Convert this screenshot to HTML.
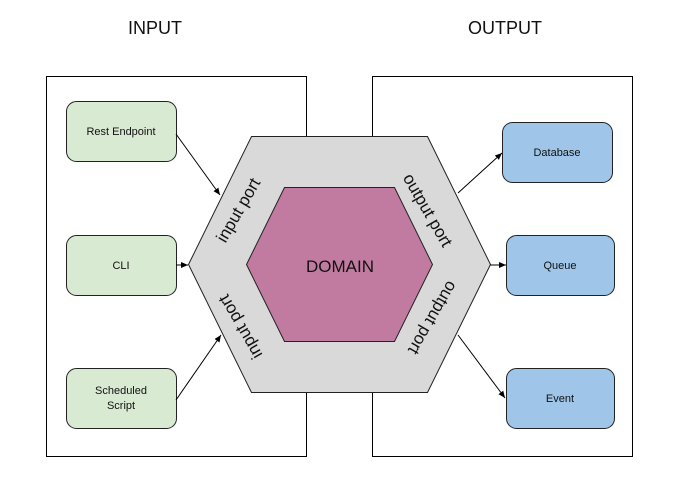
<!DOCTYPE html>
<html><head><meta charset="utf-8"><style>
html,body{margin:0;padding:0;background:#fff;}
svg{display:block;}
text{font-family:"Liberation Sans",Arial,sans-serif;fill:#111;}
</style></head><body>
<svg width="682" height="487" viewBox="0 0 682 487" xmlns="http://www.w3.org/2000/svg">
<defs>
<marker id="a" markerWidth="8" markerHeight="8" refX="7" refY="4" orient="auto" markerUnits="userSpaceOnUse">
<path d="M0,1 L7,4 L0,7 Z" fill="#000"/></marker>
</defs>
<text x="155" y="34" font-size="18" text-anchor="middle">INPUT</text>
<text x="505" y="34" font-size="18" text-anchor="middle">OUTPUT</text>
<rect x="46.5" y="76.5" width="260" height="380" fill="#fff" stroke="#000" stroke-width="1"/>
<rect x="372.5" y="76.5" width="260" height="380" fill="#fff" stroke="#000" stroke-width="1"/>
<g stroke="#222" stroke-width="1">
<rect x="66.5" y="101.5" width="110" height="60" rx="10" fill="#d9ead3"/>
<rect x="66.5" y="235.5" width="110" height="60" rx="10" fill="#d9ead3"/>
<rect x="66.5" y="368.5" width="110" height="60" rx="10" fill="#d9ead3"/>
<rect x="502.5" y="122.5" width="110" height="60" rx="10" fill="#9fc5e8"/>
<rect x="506.5" y="235.5" width="108" height="60" rx="10" fill="#9fc5e8"/>
<rect x="506.5" y="368.5" width="108" height="60" rx="10" fill="#9fc5e8"/>
</g>
<g font-size="11" text-anchor="middle">
<text x="121" y="135">Rest Endpoint</text>
<text x="121" y="269">CLI</text>
<text x="121" y="394">Scheduled</text>
<text x="121" y="409">Script</text>
<text x="557" y="156">Database</text>
<text x="560" y="269">Queue</text>
<text x="560" y="402">Event</text>
</g>
<polygon points="251.5,136.5 427.5,136.5 490.5,264.5 427.5,392.5 251.5,392.5 188.5,264.5" fill="#d9d9d9" stroke="#222" stroke-width="1"/>
<polygon points="284.5,187.5 394.5,187.5 432.5,264.5 394.5,341.5 284.5,341.5 246.5,264.5" fill="#c27ba0" stroke="#222" stroke-width="1"/>
<text x="340" y="272" font-size="17" text-anchor="middle">DOMAIN</text>
<g font-size="17" text-anchor="middle">
<text transform="translate(238,210) rotate(-60)" y="6">input port</text>
<text transform="translate(428,210) rotate(60)" y="6">output port</text>
<text transform="translate(240,327) rotate(240)" y="6">input port</text>
<text transform="translate(433,318) rotate(120)" y="6">output port</text>
</g>
<g stroke="#000" stroke-width="1" marker-end="url(#a)">
<line x1="176" y1="134" x2="220" y2="195"/>
<line x1="176" y1="265" x2="188" y2="265"/>
<line x1="176" y1="400" x2="221" y2="335"/>
<line x1="458" y1="193" x2="502" y2="153"/>
<line x1="490" y1="265" x2="506" y2="265"/>
<line x1="458" y1="335" x2="505" y2="398"/>
</g>
</svg>
</body></html>
